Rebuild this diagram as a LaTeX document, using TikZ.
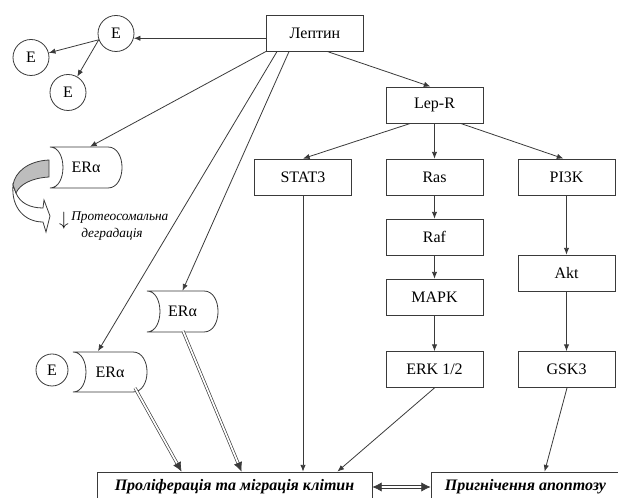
\documentclass[tikz,border=0pt]{standalone}
\usepackage{fontspec}
\setmainfont{Liberation Serif}
\usetikzlibrary{arrows.meta,calc}
\definecolor{ln}{HTML}{3A3A3A}
\definecolor{shade}{HTML}{BDBDBD}
\tikzset{
  box/.style={draw=ln, line width=0.6pt, minimum width=72.75pt, minimum height=27pt, inner sep=0pt, font=\fontsize{12}{14}\selectfont},
  bigbox/.style={draw=ln, line width=0.6pt, minimum height=22.5pt, inner sep=0pt, font=\fontsize{12}{14}\selectfont\bfseries\itshape},
  ecirc/.style={draw=ln, circle, line width=0.6pt, minimum size=27pt, inner sep=0pt, font=\fontsize{12}{14}\selectfont},
  ertext/.style={inner sep=0pt, minimum height=30.75pt, font=\fontsize{12}{14}\selectfont},
  arr/.style={draw=ln, line width=0.6pt, -{Latex[length=5pt,width=4pt]}},
  dblarr/.style={draw=ln, line width=0.5pt, double=white, double distance=1.3pt, -{Latex[length=7pt,width=6.5pt]}},
  bidbl/.style={draw=ln, line width=0.5pt, double=white, double distance=1.3pt, {Latex[length=7pt,width=7pt]}-{Latex[length=7pt,width=7pt]}},
  shp/.style={draw=ln, line width=0.6pt, fill=white},
  lbl/.style={inner sep=0pt, font=\fontsize{10}{12}\selectfont\itshape}
}
\newcommand\ershape[4]{%
  \draw[shp] (#1,#2) -- ({#3-14},#2) .. controls ({#3+4.7},#2) and ({#3+4.7},#4) .. ({#3-14},#4) -- (#1,#4) .. controls ({#1+17.3},#4) and ({#1+17.3},#2) .. (#1,#2) -- cycle;}
\begin{document}
\begin{tikzpicture}[x=0.75pt, y=-0.75pt]
  \useasboundingbox (0,0) rectangle (618,498);
  \clip (0,0) rectangle (618,498);

  % boxes
  \node[box] (leptin) at (315,33) {Лептин};
  \node[box] (lepr) at (434.5,105) {Lep-R};
  \node[box] (stat3) at (303,177) {STAT3};
  \node[box] (ras) at (434.5,177) {Ras};
  \node[box] (pi3k) at (566.5,177) {PI3K};
  \node[box] (raf) at (434.5,237) {Raf};
  \node[box] (mapk) at (434.5,297) {MAPK};
  \node[box] (erk) at (434.5,369.5) {ERK 1/2};
  \node[box] (akt) at (566.5,273) {Akt};
  \node[box] (gsk3) at (566.5,369.5) {GSK3};
  \node[bigbox, minimum width=206.25pt] (prolif) at (234.5,487) {Проліферація та міграція клітин};
  \node[bigbox, minimum width=141.75pt] (apop) at (525.5,487) {Пригнічення апоптозу};

  % E circles
  \node[ecirc] (e1) at (116,33.5) {E};
  \node[ecirc] (e2) at (31,57.5) {E};
  \node[ecirc] (e3) at (68,92.5) {E};
  \node[ecirc, minimum size=24pt] (e4) at (52,370) {E};

  % ER alpha shapes
  \ershape{50}{147}{122}{188}
  \node[ertext, minimum width=54pt] (era1) at (86,167.5) {ERα};
  \ershape{147}{291}{218}{332}
  \node[ertext, minimum width=53.25pt] (era2) at (182.5,311.5) {ERα};
  \ershape{73}{352}{147}{392}
  \node[ertext, minimum width=55.5pt] (era3) at (110,372) {ERα};

  % curved degradation arrow
  \draw[shp] (16,193) .. controls (20,203) and (30,208) .. (43,208) -- (44,200) -- (50,216) -- (46,232) -- (43,222) .. controls (25,222) and (11,208) .. (13,185) -- cycle;
  \draw[shp, fill=shade] (49,160) -- (49,177) .. controls (32,178) and (20,184) .. (16,193) -- (13,185) .. controls (15,172) and (28,161) .. (49,160) -- cycle;
  \node[inner sep=0pt, font=\fontsize{14}{14}\selectfont] (darr) at (64,221) {$\downarrow$};
  \node[lbl, anchor=west] (t1) at (71,218) {Протеосомальна};
  \node[lbl] (t2) at (112,234) {деградація};

  % connectors
  \draw[arr] (leptin.west |- e1.-15) -- (e1.-15);
  \draw[arr] (e1.200) -- (e2);
  \draw[arr] (e1.200) -- (e3);
  \draw[arr] (leptin.south west) -- ($(era1.north)+(4,0)$);
  \draw[arr] ($(leptin.south west)+(11,0)$) -- ($(era3.north)+(-12,0)$);
  \draw[arr] ($(leptin.south west)+(23,0)$) -- (era2.north);
  \draw[arr] ($(leptin.south)+(12,0)$) -- ($(lepr.north)+(-4,0)$);
  \draw[arr] ($(lepr.south)+(-24,0)$) -- (stat3.north);
  \draw[arr] (lepr.south) -- (ras.north);
  \draw[arr] ($(lepr.south)+(26,0)$) -- ($(pi3k.north)+(-3,0)$);
  \draw[arr] (ras) -- (raf);
  \draw[arr] (raf) -- (mapk);
  \draw[arr] (mapk) -- (erk);
  \draw[arr] (pi3k) -- (akt);
  \draw[arr] (akt) -- (gsk3);
  \draw[arr] (stat3.south) -- (stat3.south |- prolif.north);
  \draw[arr] (erk.south) -- ($(prolif.north east)+(-35,0)$);
  \draw[arr] ($(gsk3.south)+(0.5,0)$) -- ($(apop.north west)+(114,0)$);
  \draw[dblarr] (135,388) -- ($(prolif.north west)+(85,0)$);
  \draw[dblarr] (183,331) -- ($(prolif.north west)+(145,0)$);
  \draw[bidbl] (prolif.east) -- (apop.west);
\end{tikzpicture}
\end{document}
